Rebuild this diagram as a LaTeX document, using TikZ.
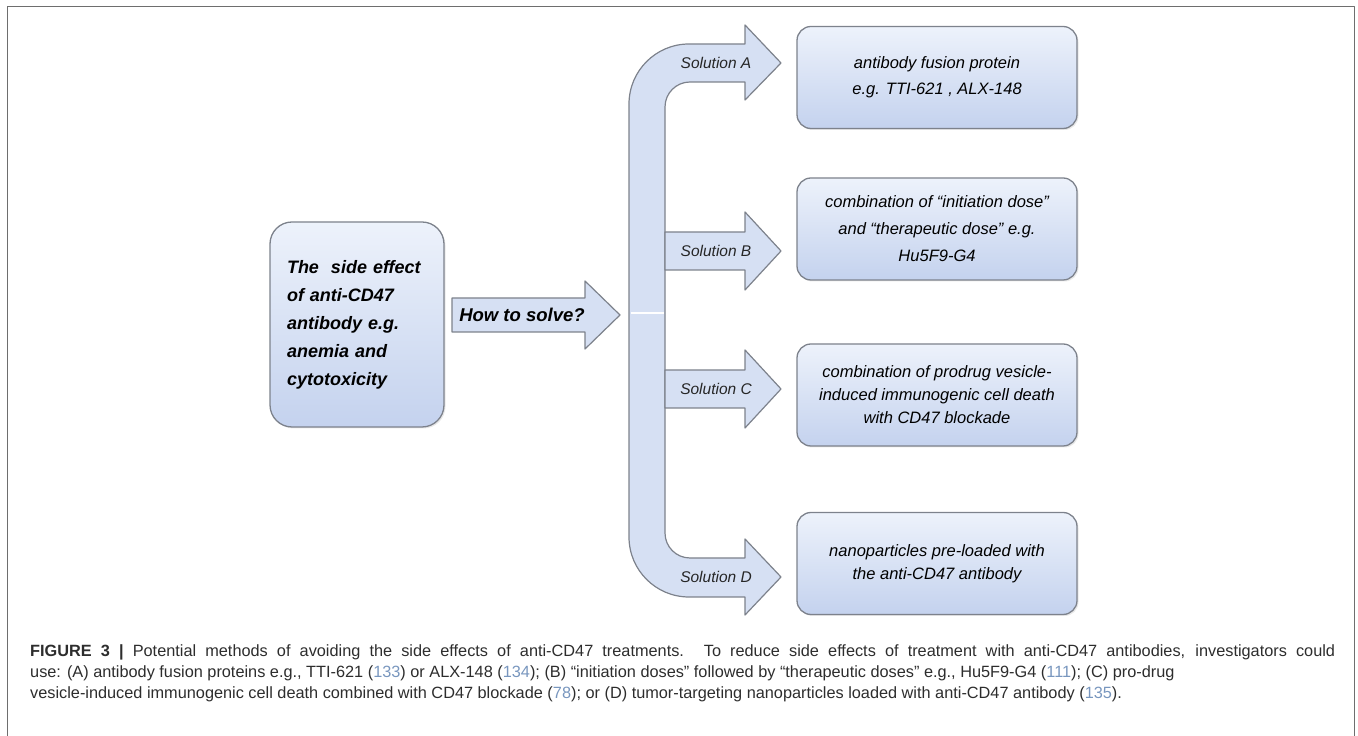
\documentclass[tikz,border=0pt]{standalone}
\usepackage{fontspec}
\setmainfont{Liberation Sans}
\usetikzlibrary{shadows}
\definecolor{boxtop}{RGB}{237,242,251}
\definecolor{boxbot}{RGB}{196,210,238}
\definecolor{arrowfill}{RGB}{214,224,243}
\definecolor{edgegray}{RGB}{125,130,140}
\definecolor{framegray}{RGB}{110,110,110}
\definecolor{refblue}{RGB}{120,150,190}
\definecolor{captext}{RGB}{45,45,45}
\tikzset{
  sidebox/.style={draw=edgegray, line width=1.3pt, top color=boxtop, bottom color=boxbot,
    drop shadow={opacity=0.18, shadow xshift=1.5pt, shadow yshift=-1.5pt}},
  solbox/.style={sidebox, rounded corners=14pt, minimum width=280pt, minimum height=102pt,
    align=center, font=\fontsize{16.5}{26}\selectfont\itshape},
  blockarrow/.style={draw=edgegray, line width=1.2pt, fill=arrowfill},
  sollabel/.style={font=\fontsize{15.5}{18}\selectfont\itshape, text=black!85},
  capline/.style={anchor=base west, inner sep=0pt, text=captext, font=\fontsize{16.3}{21}\selectfont}
}
\newcommand{\refno}[1]{\textcolor{refblue}{#1}}
\begin{document}
\begin{tikzpicture}[x=1pt, y=1pt, line join=round]
  \useasboundingbox (0,0) rectangle (1358,736);
  % frame, open at the bottom
  \draw[framegray, line width=1.5pt] (7.5,0) -- (7.5,729.5) -- (1354.5,729.5) -- (1354.5,0);

  % the problem
  \node[sidebox, rounded corners=22pt, minimum width=174pt, minimum height=205pt, text width=140pt,
    align=left, font=\fontsize{18}{28}\selectfont\bfseries\itshape] (effect) at (357,411.5)
    {The\ \ side effect\\of anti-CD47\\antibody e.g.\\anemia and\\cytotoxicity};

  % how to solve
  \draw[blockarrow] (452,438) -- (585,438) -- (585,455) -- (620,421) -- (585,387) -- (585,404) -- (452,404) -- cycle;
  \node[font=\fontsize{18.5}{22}\selectfont\bfseries\itshape] (how) at (522,421) {How to solve?};

  % trunk with the first and last branch
  \draw[blockarrow] (629,436) -- (629,632) arc[start angle=180, end angle=90, radius=60]
    -- (745,692) -- (745,711) -- (781,673) -- (745,636) -- (745,654) -- (690,654)
    arc[start angle=90, end angle=180, radius=25] -- (665,203)
    arc[start angle=180, end angle=270, radius=25] -- (745,178) -- (745,197) -- (781,159)
    -- (745,121) -- (745,139) -- (689,139) arc[start angle=270, end angle=180, radius=60] -- cycle;
  \draw[white, line width=2pt] (630.5,423) -- (663.5,423);

  % middle branches
  \foreach \yy in {485,347}
    \draw[blockarrow] (665,\yy+19) -- (745,\yy+19) -- (745,\yy+39) -- (781,\yy)
      -- (745,\yy-39) -- (745,\yy-19) -- (665,\yy-19) -- cycle;

  \foreach \yy/\name in {673/A,485/B,347/C,159/D}
    \node[sollabel] (lab\name) at (716,\yy) {Solution \name};

  % solutions
  \node[solbox] (solA) at (937,658.5) {antibody fusion protein\\e.g. TTI-621 , ALX-148};
  \node[solbox, font=\fontsize{16.5}{27}\selectfont\itshape] (solB) at (937,507) {combination of “initiation dose”\\and “therapeutic dose” e.g.\\Hu5F9-G4};
  \node[solbox, font=\fontsize{16.5}{23}\selectfont\itshape] (solC) at (937,341) {combination of prodrug vesicle-\\induced immunogenic cell death\\with CD47 blockade};
  \node[solbox, font=\fontsize{16.5}{23}\selectfont\itshape] (solD) at (937,172.5) {nanoparticles pre-loaded with\\the anti-CD47 antibody};

  % caption
  \node[capline] (cap1) at (30,79) {\makebox[1305pt][s]{\textbf{FIGURE 3 |} Potential methods of avoiding the side effects of anti-CD47 treatments. To reduce side effects of treatment with anti-CD47 antibodies, investigators could}};
  \node[capline] (cap2) at (30,58) {use: (A) antibody fusion proteins e.g., TTI-621 (\refno{133}) or ALX-148 (\refno{134}); (B) “initiation doses” followed by “therapeutic doses” e.g., Hu5F9-G4 (\refno{111}); (C) pro-drug};
  \node[capline] (cap3) at (30,37) {vesicle-induced immunogenic cell death combined with CD47 blockade (\refno{78}); or (D) tumor-targeting nanoparticles loaded with anti-CD47 antibody (\refno{135}).};
\end{tikzpicture}
\end{document}
